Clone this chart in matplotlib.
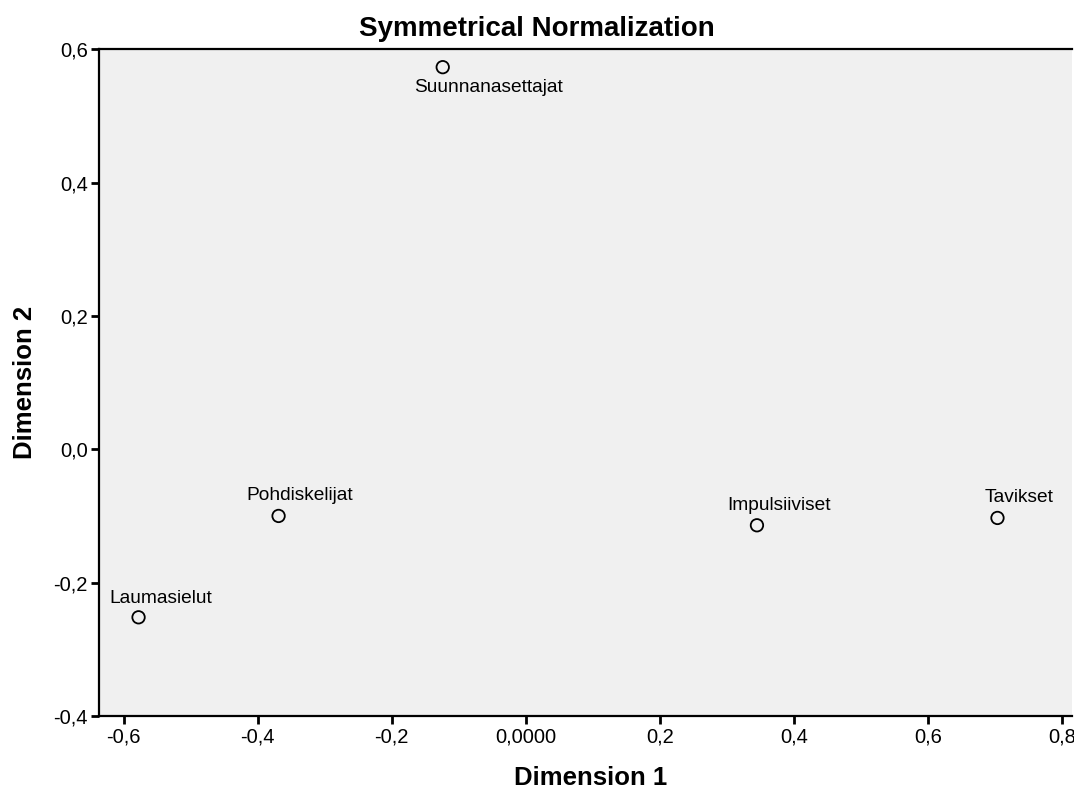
import matplotlib
matplotlib.use("Agg")
import matplotlib.pyplot as plt
from matplotlib.ticker import FixedLocator

plt.rcParams['font.family'] = ['Liberation Sans', 'DejaVu Sans']

# Data
names = ["Suunnanasettajat", "Pohdiskelijat", "Laumasielut", "Impulsiiviset", "Tavikset"]
dim1 = [-0.124, -0.369, -0.578, 0.345, 0.704]
dim2 = [0.573, -0.100, -0.252, -0.114, -0.103]
# label offset in pixels (dx, dy) - SPSS puts the top one below the point
offsets = [(46, -20), (21, 20), (22, 19), (22, 20), (22, 20)]

xticks = [-0.6, -0.4, -0.2, 0.0, 0.2, 0.4, 0.6, 0.8]
xticklabels = ["-0,6", "-0,4", "-0,2", "0,0000", "0,2", "0,4", "0,6", "0,8"]
yticks = [-0.4, -0.2, 0.0, 0.2, 0.4, 0.6]
yticklabels = ["-0,4", "-0,2", "0,0", "0,2", "0,4", "0,6"]

fig = plt.figure(figsize=(10.74, 7.93), dpi=100)
ax = fig.add_axes([0.0922, 0.0971, 0.9058, 0.8409])
ax.set_facecolor("#f0f0f0")

ax.scatter(dim1, dim2, s=80, facecolors="none", edgecolors="black", linewidths=1.3, zorder=3)
for n, x, y, (dx, dy) in zip(names, dim1, dim2, offsets):
    ax.annotate(n, (x, y), xytext=(dx * 0.72, dy * 0.72), textcoords="offset points",
                ha="center", va="center", fontsize=13.8)

ax.set_xlim(-0.637, 0.815)
ax.set_ylim(-0.4, 0.6)
ax.xaxis.set_major_locator(FixedLocator(xticks))
ax.set_xticklabels(xticklabels)
ax.yaxis.set_major_locator(FixedLocator(yticks))
ax.set_yticklabels(yticklabels)
ax.tick_params(direction="out", length=6, width=2, labelsize=14.5, pad=2)

for s in ["left", "bottom", "top"]:
    ax.spines[s].set_linewidth(1.6)
ax.spines["right"].set_visible(False)

# title is centred on the whole figure, not the axes
fig.text(0.5, 0.964, "Symmetrical Normalization", fontsize=20, fontweight="bold",
         ha="center", va="center")
ax.set_xlabel("Dimension 1", fontsize=18.5, fontweight="bold", labelpad=17)
ax.xaxis.set_label_coords(0.505, -0.075)
ax.set_ylabel("Dimension 2", fontsize=18.5, fontweight="bold", labelpad=12)

fig.savefig("out.png", dpi=100)
